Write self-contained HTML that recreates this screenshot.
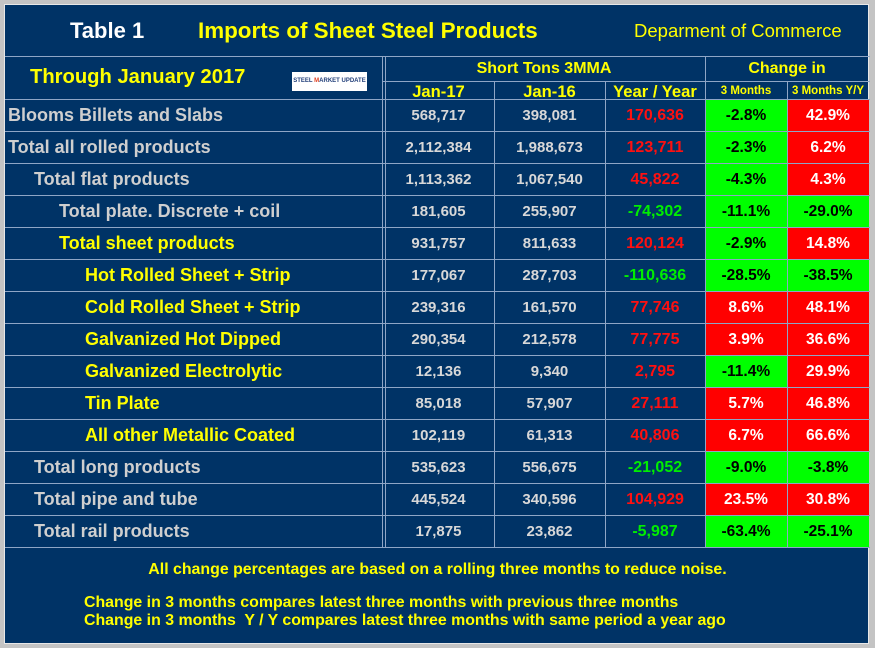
<!DOCTYPE html>
<html><head><meta charset="utf-8"><style>
*{margin:0;padding:0;box-sizing:border-box}
body{width:875px;height:648px;background:#c4c4c4;font-family:"Liberation Sans",Arial,sans-serif;font-weight:bold;position:relative;overflow:hidden}
#p{position:absolute;left:4px;top:4px;width:865px;height:640px;background:#003366;border:1px solid #e8e8e8}
.a{position:absolute;white-space:nowrap}
.h{position:absolute;background:#8fa6c6;height:1px}
.v{position:absolute;background:#8fa6c6;width:1px}
.row{position:absolute;left:0;height:32px;width:865px}
.c{position:absolute;top:0;height:32px;line-height:33px;text-align:center;font-size:15px;color:#d8d8d8}
.l{position:absolute;top:0;height:32px;line-height:32px;font-size:18px;color:#cfcfcf}
.y{color:#ffff00}
.R{color:#ff1010}.G{color:#00ee00}
.bg{background:#00ff00;color:#000;font-size:15.5px}
.br{background:#ff0000;color:#fff;font-size:15.5px}
</style></head><body><div id="p">
<div class="a" style="left:65px;top:13px;font-size:22px;color:#fff">Table 1</div>
<div class="a" style="left:193px;top:13px;font-size:22.4px;color:#ffff00">Imports of Sheet Steel Products</div>
<div class="a" style="left:629px;top:15px;font-size:18.5px;color:#ffff00;font-weight:normal">Deparment of Commerce</div>
<div class="a" style="left:25px;top:61px;font-size:20.2px;color:#ffff00">Through January 2017</div>
<div class="a" style="left:287px;top:67px;width:75px;height:19px;background:#fff;font-size:6px;color:#23407a;line-height:19px;text-align:center">STEEL <span style="color:#e04020">M</span>ARKET UPDATE</div>
<div class="a" style="left:378px;top:55px;width:322px;text-align:center;font-size:16px;color:#ffff00">Short Tons 3MMA</div>
<div class="a" style="left:700px;top:55px;width:164px;text-align:center;font-size:16px;color:#ffff00">Change in</div>
<div class="a" style="left:378px;top:77px;width:111px;text-align:center;font-size:16.6px;color:#ffff00">Jan-17</div>
<div class="a" style="left:489px;top:77px;width:111px;text-align:center;font-size:16.6px;color:#ffff00">Jan-16</div>
<div class="a" style="left:600px;top:77px;width:100px;text-align:center;font-size:16.6px;color:#ffff00">Year / Year</div>
<div class="a" style="left:700px;top:80px;width:82px;text-align:center;font-size:11.5px;color:#ffff00">3 Months</div>
<div class="a" style="left:782px;top:80px;width:82px;text-align:center;font-size:11.5px;color:#ffff00">3 Months Y/Y</div>
<div class="h" style="left:0;top:51px;width:865px"></div>
<div class="h" style="left:378px;top:76px;width:487px"></div>
<div id="rows"></div>
<div class="a" style="left:0;top:556px;width:865px;text-align:center;font-size:15.9px;color:#ffff00">All change percentages are based on a rolling three months to reduce noise.</div>
<div class="a" style="left:79px;top:589px;font-size:15.9px;color:#ffff00">Change in 3 months compares latest three months with previous three months</div>
<div class="a" style="left:79px;top:607px;font-size:15.9px;color:#ffff00">Change in 3 months&nbsp; Y / Y compares latest three months with same period a year ago</div>
</div>
<script>
var d=[
["Blooms Billets and Slabs",0,0,"568,717","398,081","170,636",1,"-2.8%",0,"42.9%",1],
["Total all rolled products",0,0,"2,112,384","1,988,673","123,711",1,"-2.3%",0,"6.2%",1],
["Total flat products",1,0,"1,113,362","1,067,540","45,822",1,"-4.3%",0,"4.3%",1],
["Total plate. Discrete + coil",2,0,"181,605","255,907","-74,302",0,"-11.1%",0,"-29.0%",0],
["Total sheet products",2,1,"931,757","811,633","120,124",1,"-2.9%",0,"14.8%",1],
["Hot Rolled Sheet + Strip",3,1,"177,067","287,703","-110,636",0,"-28.5%",0,"-38.5%",0],
["Cold Rolled Sheet + Strip",3,1,"239,316","161,570","77,746",1,"8.6%",1,"48.1%",1],
["Galvanized Hot Dipped",3,1,"290,354","212,578","77,775",1,"3.9%",1,"36.6%",1],
["Galvanized Electrolytic",3,1,"12,136","9,340","2,795",1,"-11.4%",0,"29.9%",1],
["Tin Plate",3,1,"85,018","57,907","27,111",1,"5.7%",1,"46.8%",1],
["All other Metallic Coated",3,1,"102,119","61,313","40,806",1,"6.7%",1,"66.6%",1],
["Total long products",1,0,"535,623","556,675","-21,052",0,"-9.0%",0,"-3.8%",0],
["Total pipe and tube",1,0,"445,524","340,596","104,929",1,"23.5%",1,"30.8%",1],
["Total rail products",1,0,"17,875","23,862","-5,987",0,"-63.4%",0,"-25.1%",0]];
var ind=[3,29,54,80],h="";
d.forEach(function(r,i){var t=94+32*i;
h+='<div class="row" style="top:'+t+'px">'+
'<div class="l'+(r[2]?' y':'')+'" style="left:'+ind[r[1]]+'px">'+r[0]+'</div>'+
'<div class="c" style="left:378px;width:111px">'+r[3]+'</div>'+
'<div class="c" style="left:489px;width:111px">'+r[4]+'</div>'+
'<div class="c '+(r[6]?'R':'G')+'" style="left:600px;width:100px;font-size:16px">'+r[5]+'</div>'+
'<div class="c '+(r[8]?'br':'bg')+'" style="left:700px;width:82px">'+r[7]+'</div>'+
'<div class="c '+(r[10]?'br':'bg')+'" style="left:782px;width:82px">'+r[9]+'</div></div>';
h+='<div class="h" style="left:0;top:'+t+'px;width:865px"></div>';});
h+='<div class="h" style="left:0;top:542px;width:865px"></div>';
h+='<div class="v" style="left:377px;top:51px;height:491px"></div><div class="v" style="left:380px;top:51px;height:491px"></div>';
[489,600].forEach(function(x){h+='<div class="v" style="left:'+x+'px;top:76px;height:466px"></div>'});
h+='<div class="v" style="left:700px;top:51px;height:491px"></div><div class="v" style="left:782px;top:76px;height:466px"></div>';
document.getElementById('rows').innerHTML=h;
</script>
</body></html>
